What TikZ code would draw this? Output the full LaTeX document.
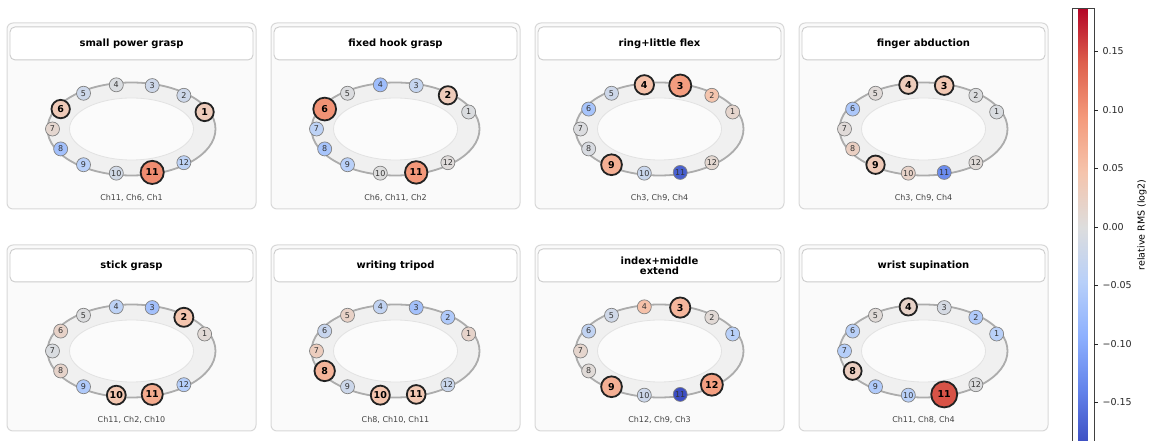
\documentclass[tikz,border=0pt]{standalone}
\usepackage{fontspec}
\setmainfont{DejaVu Sans}
\usetikzlibrary{positioning}

\definecolor{cw0}{RGB}{59,76,192}
\definecolor{cw1}{RGB}{98,130,234}
\definecolor{cw2}{RGB}{141,176,254}
\definecolor{cw3}{RGB}{184,208,249}
\definecolor{cw4}{RGB}{221,221,221}
\definecolor{cw5}{RGB}{245,196,172}
\definecolor{cw6}{RGB}{244,154,123}
\definecolor{cw7}{RGB}{222,96,77}
\definecolor{cw8}{RGB}{180,4,38}
\definecolor{panelbg}{RGB}{250,250,250}
\definecolor{panelframe}{RGB}{216,216,216}
\definecolor{titleframe}{RGB}{204,204,204}
\definecolor{ringfill}{RGB}{240,240,240}
\definecolor{ringedge}{RGB}{172,172,172}
\definecolor{holeedge}{RGB}{226,226,226}
\definecolor{holefill}{RGB}{251,251,251}
\definecolor{elecedge}{RGB}{130,130,130}
\definecolor{hledge}{RGB}{34,34,34}
\definecolor{labelgray}{RGB}{51,51,51}
\definecolor{capgray}{RGB}{68,68,68}

\pgfdeclareverticalshading{coolwarmbar}{22pt}{color(0bp)=(cw0); color(25bp)=(cw0); color(31.25bp)=(cw1); color(37.5bp)=(cw2); color(43.75bp)=(cw3); color(50bp)=(cw4); color(56.25bp)=(cw5); color(62.5bp)=(cw6); color(68.75bp)=(cw7); color(75bp)=(cw8); color(100bp)=(cw8)}

\newcommand{\cwset}[2]{%
  \pgfmathsetmacro{\cwt}{max(0,min(7.999,(#2+0.187)/0.374*8))}%
  \pgfmathtruncatemacro{\cwi}{\cwt}%
  \pgfmathtruncatemacro{\cwj}{\cwi+1}%
  \pgfmathsetmacro{\cwp}{(\cwt-\cwi)*100}%
  \colorlet{#1}{cw\cwj!\cwp!cw\cwi}}

\newcommand{\drawpanel}[6]{%
  \begin{scope}[shift={(7+264*#2,418-222*#3)}]
    \node[panelbox] (#1) at (124.5,-93) {};
    \node[titlebox, below=4pt of #1.north] (#1t) {#4};
    \draw[ringband] (124.5,-106) ellipse [x radius=84pt, y radius=46.5pt];
    \draw[ringhole] (124.5,-106) ellipse [x radius=62pt, y radius=31pt];
    \node[captext] (#1c) at (124.5,-175) {#5};
    \begin{scope}[shift={(124.5,-106)}]
      \foreach \v/\h [count=\k] in {#6}{
        \cwset{ecol}{\v}
        \pgfmathsetmacro{\ang}{180+(\k-7)*26.3}
        \ifnum\h=1
          \pgfmathsetmacro{\dia}{16+68*abs(\v)}
          \node[elechl, fill=ecol, minimum size=\dia pt] (#1e\k) at (\ang:79pt and 45pt) {\k};
        \else
          \node[elec, fill=ecol] (#1e\k) at (\ang:79pt and 45pt) {\k};
        \fi
      }
    \end{scope}
  \end{scope}}

\begin{document}
\begin{tikzpicture}[x=1pt,y=1pt,
  panelbox/.style={draw=panelframe, fill=panelbg, rounded corners=6pt, line width=1pt, minimum width=249pt, minimum height=186pt, inner sep=0pt},
  titlebox/.style={draw=titleframe, fill=white, rounded corners=5pt, line width=0.9pt, minimum width=243pt, minimum height=33pt, inner sep=0pt, align=center, font=\fontsize{10}{10}\selectfont\bfseries},
  ringband/.style={draw=ringedge, fill=ringfill, line width=1.8pt},
  ringhole/.style={draw=holeedge, fill=holefill, line width=0.8pt},
  elec/.style={circle, draw=elecedge, line width=0.7pt, minimum size=14pt, inner sep=0pt, text=labelgray, font=\fontsize{8}{8}\selectfont},
  elechl/.style={circle, draw=hledge, line width=1.8pt, inner sep=0pt, text=black, font=\fontsize{9.5}{9.5}\selectfont\bfseries},
  captext/.style={text=capgray, font=\fontsize{8}{8}\selectfont},
  cbar/.style={draw=black!75, line width=0.6pt, shading=coolwarmbar, minimum width=22pt, minimum height=437.6pt, inner sep=0pt},
  cbtick/.style={draw=black!85, line width=0.6pt},
  ticklab/.style={inner sep=4.5pt, text=black!85, font=\fontsize{9.5}{9.5}\selectfont}]
\useasboundingbox (0,0) rectangle (1150,441);

\drawpanel{pa}{0}{0}{small power grasp}{Ch11, Ch6, Ch1}{0.033/1,-0.02/0,-0.02/0,-0.005/0,-0.022/0,0.035/1,0.013/0,-0.07/0,-0.045/0,-0.015/0,0.105/1,-0.04/0}
\drawpanel{pb}{1}{0}{fixed hook grasp}{Ch6, Ch11, Ch2}{-0.004/0,0.033/1,-0.03/0,-0.075/0,-0.003/0,0.10/1,-0.04/0,-0.065/0,-0.045/0,0.0/0,0.095/1,0.003/0}
\drawpanel{pc}{2}{0}{ring+little flex}{Ch3, Ch9, Ch4}{0.015/0,0.045/0,0.09/1,0.05/1,-0.02/0,-0.065/0,-0.003/0,-0.006/0,0.07/1,-0.025/0,-0.17/0,0.012/0}
\drawpanel{pd}{3}{0}{finger abduction}{Ch3, Ch9, Ch4}{-0.005/0,-0.002/0,0.04/1,0.032/1,0.005/0,-0.06/0,0.005/0,0.026/0,0.035/1,0.02/0,-0.13/0,0.006/0}
\drawpanel{pe}{0}{1}{stick grasp}{Ch11, Ch2, Ch10}{0.008/0,0.045/1,-0.07/0,-0.04/0,-0.002/0,0.02/0,-0.005/0,0.018/0,-0.055/0,0.042/1,0.075/1,-0.05/0}
\drawpanel{pf}{1}{1}{writing tripod}{Ch8, Ch10, Ch11}{0.018/0,-0.055/0,-0.07/0,-0.035/0,0.022/0,-0.028/0,0.03/0,0.065/1,-0.022/0,0.045/1,0.04/1,-0.025/0}
\drawpanel{pg}{2}{1}{index+middle\\extend}{Ch12, Ch9, Ch3}{-0.045/0,0.008/0,0.062/1,0.05/0,-0.018/0,-0.035/0,0.015/0,0.006/0,0.07/1,-0.022/0,-0.185/0,0.088/1}
\drawpanel{ph}{3}{1}{wrist supination}{Ch11, Ch8, Ch4}{-0.045/0,-0.055/0,-0.01/0,0.02/1,0.006/0,-0.045/0,-0.05/0,0.028/1,-0.055/0,-0.045/0,0.147/1,-0.002/0}

\node[cbar] (cbar) at (1083,214) {};
\foreach \t/\lab in {0.15/0.15,0.10/0.10,0.05/0.05,0/0.00,-0.05/−0.05,-0.10/−0.10,-0.15/−0.15}
  \draw[cbtick] (cbar.east) ++(0,1170*\t) -- ++(3.5,0) node[right, ticklab] {\lab};
\node[rotate=90, font=\fontsize{9.5}{9.5}\selectfont] (cblabel) at (1142,216) {relative RMS (log2)};
\end{tikzpicture}
\end{document}
